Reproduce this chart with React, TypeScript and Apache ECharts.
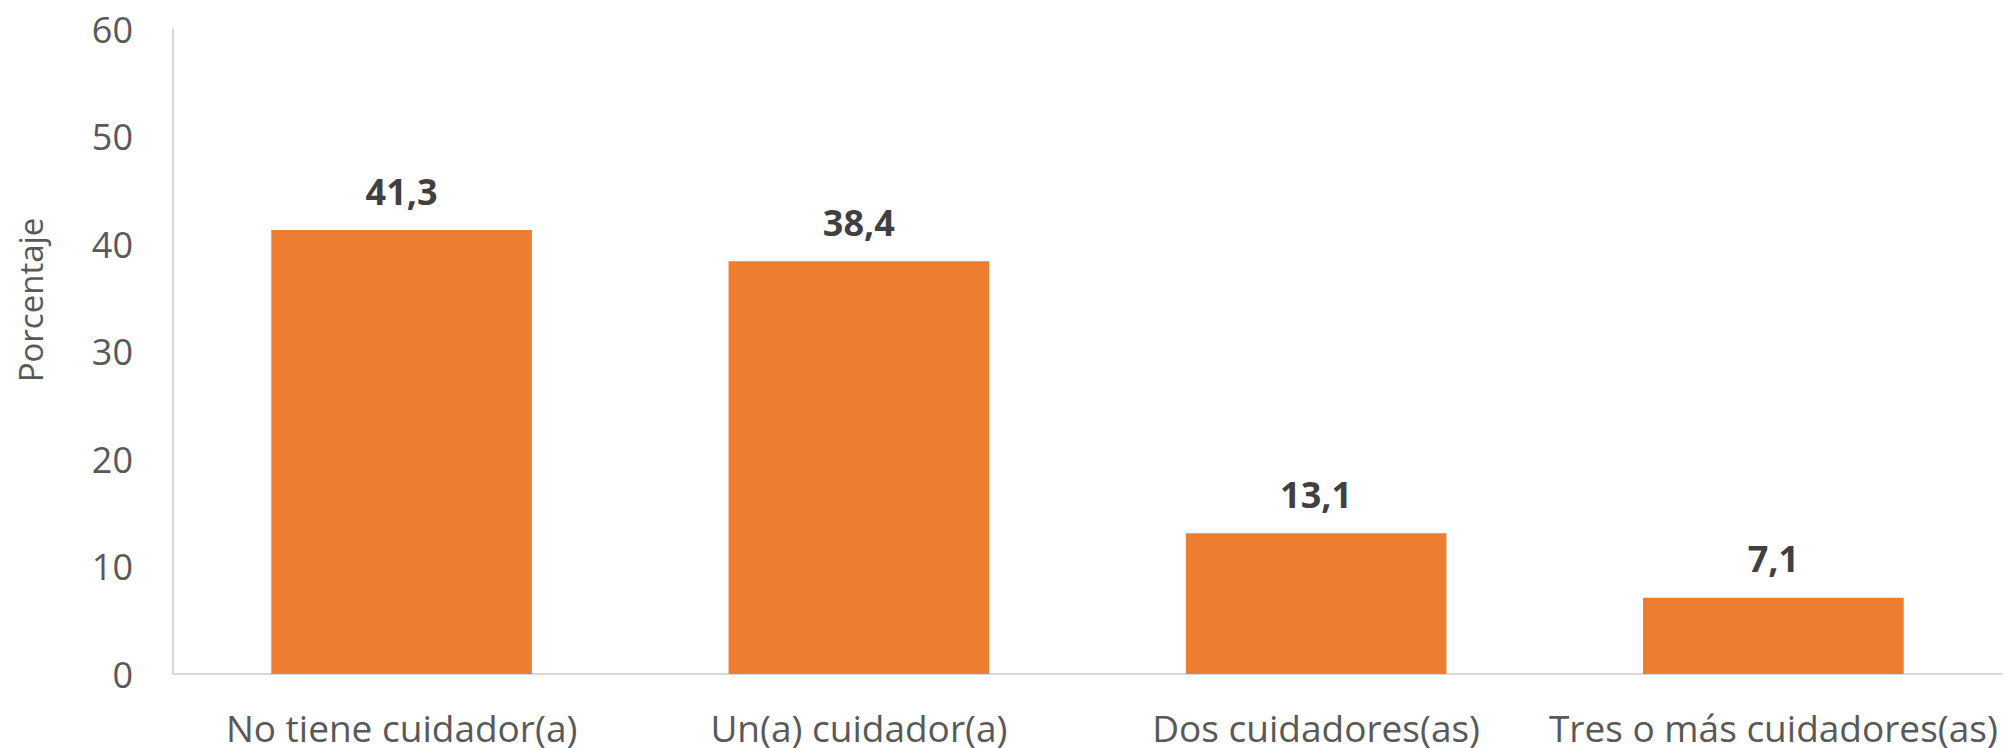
import React, { useEffect, useRef } from "react";
import * as echarts from "echarts";

const categories = [
  "No tiene cuidador(a)",
  "Un(a) cuidador(a)",
  "Dos cuidadores(as)",
  "Tres o más cuidadores(as)",
];
const values = [41.3, 38.4, 13.1, 7.1];
const yTicks = { min: 0, max: 60, interval: 10 };
const yAxisTitle = "Porcentaje";

const FONT = "'Open Sans', 'DejaVu Sans', sans-serif";

export default function App() {
  const ref = useRef<HTMLDivElement>(null);
  useEffect(() => {
    if (!ref.current) return;
    const chart = echarts.init(ref.current, null, { renderer: "svg" });
    chart.setOption({
      animation: false,
      backgroundColor: "#ffffff",
      grid: { left: 173, right: 4, top: 29, bottom: 74, containLabel: false },
      graphic: [
        {
          type: "text",
          x: 30,
          y: 300,
          rotation: Math.PI / 2,
          style: {
            text: yAxisTitle,
            fill: "#595959",
            font: `33px ${FONT}`,
            align: "center",
            verticalAlign: "middle",
          },
        },
      ],
      xAxis: {
        type: "category",
        data: categories,
        axisLine: { show: true, lineStyle: { color: "#d9d9d9", width: 2 } },
        axisTick: { show: false },
        axisLabel: {
          color: "#595959",
          fontSize: 37,
          fontFamily: FONT,
          margin: 35,
          interval: 0,
        },
      },
      yAxis: {
        type: "value",
        min: yTicks.min,
        max: yTicks.max,
        interval: yTicks.interval,
        axisLine: { show: true, lineStyle: { color: "#d9d9d9", width: 2 } },
        axisTick: { show: false },
        splitLine: { show: false },
        axisLabel: {
          color: "#595959",
          fontSize: 36,
          fontFamily: FONT,
          margin: 40,
        },
      },
      series: [
        {
          type: "bar",
          data: values,
          barCategoryGap: "43%",
          itemStyle: { color: "#ED7D31" },
          label: {
            show: true,
            position: "top",
            distance: 21,
            color: "#404040",
            fontSize: 36,
            fontWeight: "bold",
            fontFamily: FONT,
            formatter: (p: any) => String(p.value.toFixed(1)).replace(".", ","),
          },
        },
      ],
    });
    return () => chart.dispose();
  }, []);
  return (
    <div
      ref={ref}
      style={{ position: "fixed", left: 0, top: 0, width: 2006, height: 748 }}
    />
  );
}
